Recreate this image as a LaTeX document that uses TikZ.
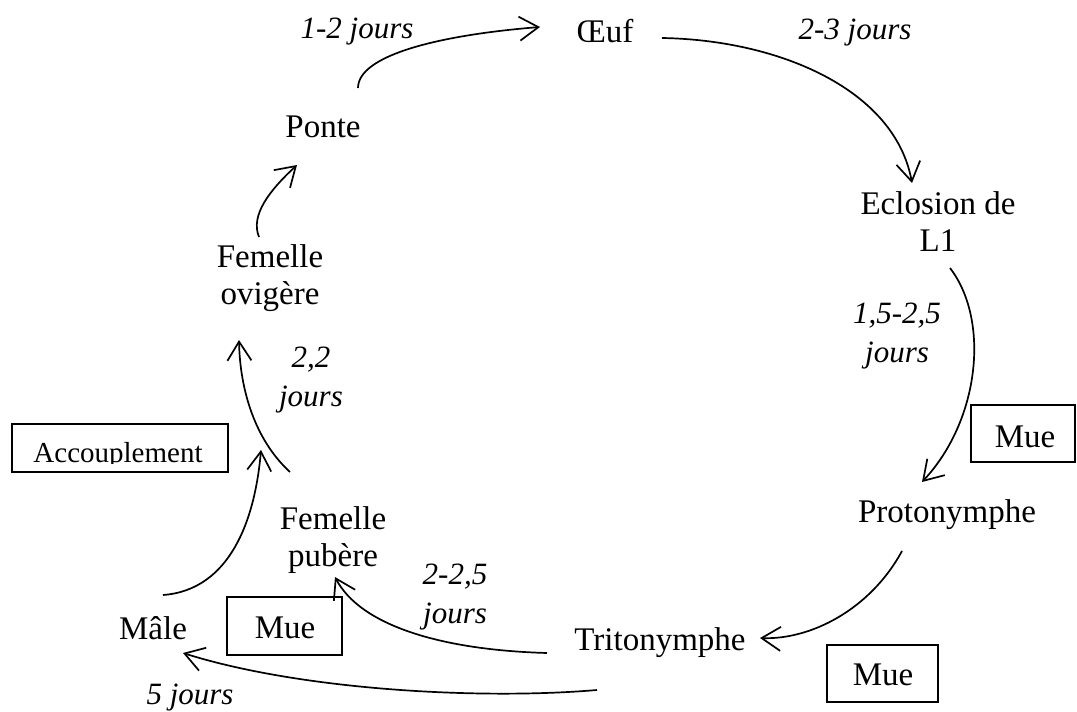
\documentclass[tikz,border=0pt]{standalone}
\usepackage{fontspec}
\setmainfont{Liberation Serif}
\usepackage{tikz}
\usetikzlibrary{arrows.meta}
\definecolor{RichBlack}{rgb}{0, 0, 0}
\tikzset{%
  stage/.style={%
    inner sep=0pt,%
    align=center,%
    font={\fontsize{16.5}{18.5}\selectfont},%
  },
  duration/.style={%
    inner sep=0pt,%
    align=center,%
    font={\fontsize{15.5}{19.5}\selectfont\itshape},%
  },
  moult/.style={%
    draw=RichBlack,%
    line width=0.7pt,%
  },
  cycle_path/.style={%
    color=RichBlack,%
    line width=0.85pt,%
    line join=round,%
  },
  arrow/.style={-{Straight Barb[length=9.5pt, width=12pt, line width=0.85pt]}},
}

\begin{document}
\begin{tikzpicture}[x=0.5pt, y=-0.5pt]

    \useasboundingbox (0, 0) rectangle (1077, 712);

    \node [stage] (Oeuf) at (605, 31) {Œuf};
    \node [stage] (Ponte) at (323, 127) {Ponte};
    \node [stage] (Eclosion) at (938, 222) {Eclosion de\\L1};
    \node [stage] (Ovigere) at (270, 278) {Femelle\\ovigère};
    \node [stage] (Protonymphe) at (947, 515) {Protonymphe};
    \node [stage] (Pubere) at (333, 540) {Femelle\\pubère};
    \node [stage] (Male) at (153, 628) {Mâle};
    \node [stage] (Tritonymphe) at (660, 643) {Tritonymphe};

    \node [duration] (d_ponte) at (357, 32) {1-2 jours};
    \node [duration] (d_oeuf) at (855, 33) {2-3 jours};
    \node [duration] (d_larve) at (897, 336) {1,5-2,5\\jours};
    \node [duration] (d_ovigere) at (311, 380) {2,2\\jours};
    \node [duration] (d_pubere) at (455, 597) {2-2,5\\jours};
    \node [duration] (d_male) at (190, 698) {5 jours};

    % boxes
    \draw [moult] (12, 424) rectangle (228, 472);
    \begin{scope}
      \clip (12, 424) rectangle (228, 463);
      \node [stage, font={\fontsize{14.5}{17}\selectfont}] (Accouplement) at (118, 456) {Accouplement};
    \end{scope}
    \draw [moult] (971, 405) rectangle (1075, 462);
    \node [stage] (Mue1) at (1025, 437) {Mue};
    \draw [moult] (227, 597) rectangle (342, 655);
    \node [stage] (Mue2) at (285, 628) {Mue};
    \draw [moult] (827, 645) rectangle (938, 702);
    \node [stage] (Mue3) at (883, 675) {Mue};

    % ends of the arrows
    \coordinate (Ponte_out) at (358, 88);
    \coordinate (Oeuf_in) at (540, 27);
    \coordinate (Oeuf_out) at (662, 38);
    \coordinate (Eclosion_in) at (912, 183);
    \coordinate (Eclosion_out) at (950, 268);
    \coordinate (Proto_in) at (922, 482);
    \coordinate (Proto_out) at (902, 551);
    \coordinate (Trito_in) at (760, 638);
    \coordinate (Trito_out1) at (547, 653);
    \coordinate (Pubere_in) at (335, 577);
    \coordinate (Trito_out2) at (597, 690);
    \coordinate (Male_in) at (183, 653);
    \coordinate (Male_out) at (163, 595);
    \coordinate (Accouplement_in) at (261, 450);
    \coordinate (Pubere_out) at (290, 472);
    \coordinate (Ovigere_in) at (239, 340);
    \coordinate (Ovigere_out) at (259, 237);
    \coordinate (Ponte_in) at (297, 165);

    \draw [arrow, cycle_path]
      (Ponte_out) .. controls (358, 55) and (440, 35) .. (Oeuf_in);
    \draw [arrow, cycle_path]
      (Oeuf_out) .. controls (780, 40) and (895, 90) .. (Eclosion_in);
    \draw [arrow, cycle_path]
      (Eclosion_out) .. controls (990, 320) and (980, 420) .. (Proto_in);
    \draw [arrow, cycle_path]
      (Proto_out) .. controls (870, 610) and (810, 640) .. (Trito_in);
    \draw [arrow, cycle_path]
      (Trito_out1) .. controls (440, 650) and (360, 625) .. (Pubere_in);
    \draw [arrow, cycle_path]
      (Trito_out2) .. controls (480, 700) and (300, 690) .. (Male_in);
    \draw [arrow, cycle_path]
      (Male_out) .. controls (230, 590) and (255, 520) .. (Accouplement_in);
    \draw [arrow, cycle_path]
      (Pubere_out) .. controls (255, 440) and (240, 390) .. (Ovigere_in);
    \draw [arrow, cycle_path]
      (Ovigere_out) .. controls (250, 215) and (270, 190) .. (Ponte_in);
  \end{tikzpicture}
\end{document}
